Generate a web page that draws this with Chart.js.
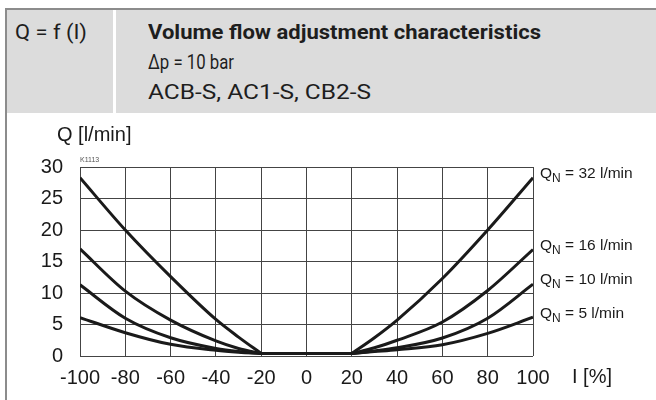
<!DOCTYPE html>
<html>
<head>
<meta charset="utf-8">
<script src="https://cdn.jsdelivr.net/npm/chart.js@4/dist/chart.umd.min.js"></script>
<style>
  html, body { margin: 0; padding: 0; background: #fff; }
  #page { position: relative; width: 656px; height: 400px; overflow: hidden; }
  #frame { position: absolute; left: 5px; top: 8px; width: 651px; height: 392px; border-left: 2px solid #8c8c8c; border-top: 2px solid #8c8c8c; box-sizing: border-box; }
  #head { position: absolute; left: 7px; top: 10px; width: 649px; height: 103px; background: #dcdcdc; }
  #sep { position: absolute; left: 113px; top: 10px; width: 3px; height: 103px; background: #fff; }
  .ht { position: absolute; font-family: Roboto, "Liberation Sans", sans-serif; font-size: 21px; color: #1e1e1e; white-space: nowrap; line-height: 1; transform-origin: 0 0; }
  canvas { position: absolute; left: 0; top: 0; }
</style>
</head>
<body>
<div id="page">
  <div id="head"></div>
  <div id="sep"></div>
  <div id="frame"></div>
  <div class="ht" data-w="72" style="left:15px; top:22px;">Q = f (I)</div>
  <div class="ht" data-w="393" style="left:148px; top:22px; font-weight:bold;">Volume flow adjustment characteristics</div>
  <div class="ht" data-w="86" style="left:148px; top:52px;">Δp = 10 bar</div>
  <div class="ht" data-w="223" style="left:148px; top:82px;">ACB-S, AC1-S, CB2-S</div>
  <canvas id="chart" width="656" height="400"></canvas>
</div>
<script>
// current I [%], left and right branch; flat part in between
const leftCurrents = [-100, -80, -60, -40, -30, -20];
const rightCurrents = [20, 30, 40, 60, 80, 100];
const flatCurrents = [-20, 20];
const flatFlow = [0.4, 0.4];

// flow Q [l/min] per nominal size
const q32Left = [28.3, 20, 12.6, 5.8, 3.0, 0.4];
const q32Right = [0.4, 2.9, 5.7, 12.3, 20, 28.3];
const q16Left = [17.0, 10.3, 5.7, 2.4, 1.2, 0.4];
const q16Right = [0.4, 1.3, 2.5, 5.4, 10.4, 16.9];
const q10Left = [11.3, 6.0, 2.9, 1.2, 0.7, 0.4];
const q10Right = [0.4, 0.8, 1.3, 2.85, 6.0, 11.4];
const q5Left = [6.1, 3.7, 1.85, 0.9, 0.6, 0.4];
const q5Right = [0.4, 0.7, 1.0, 1.8, 3.6, 6.15];

const nominalFlows = [32, 16, 10, 5];
const xTicks = [-100, -80, -60, -40, -20, 0, 20, 40, 60, 80, 100];
const yTicks = [0, 5, 10, 15, 20, 25, 30];

// squeeze header text to the condensed widths of the original
document.querySelectorAll(".ht").forEach(el => {
  const w = el.getBoundingClientRect().width;
  el.style.transform = "scaleX(" + (+el.dataset.w / w) + ")";
});

const font = "'Liberation Sans', Arial, sans-serif";
const lefts = [q32Left, q16Left, q10Left, q5Left];
const rights = [q32Right, q16Right, q10Right, q5Right];

const line = (xs, ys, extra) => Object.assign({
  data: xs.map((x, j) => ({ x, y: ys[j] })),
  borderColor: "#1a1a1a",
  borderWidth: 3,
  pointRadius: 0,
  fill: false,
  cubicInterpolationMode: "monotone",
}, extra);

const datasets = [];
nominalFlows.forEach((q, i) => {
  datasets.push(line(leftCurrents, lefts[i], { label: "QN " + q + " left" }));
  datasets.push(line(rightCurrents, rights[i], { label: "QN = " + q + " l/min", qn: q }));
});
datasets.push(line(flatCurrents, flatFlow, { label: "closed" }));

// labels at curve ends plus axis captions
const extras = {
  id: "extras",
  afterDatasetsDraw(chart) {
    const { ctx, chartArea } = chart;
    ctx.save();
    ctx.fillStyle = "#1a1a1a";
    ctx.textBaseline = "middle";
    chart.data.datasets.forEach((ds, i) => {
      if (!ds.qn) return;
      const pts = chart.getDatasetMeta(i).data;
      const p = pts[pts.length - 1];
      let x = p.x + 7;
      const y = p.y - 4;
      ctx.font = "15.5px " + font;
      ctx.fillText("Q", x, y);
      x += ctx.measureText("Q").width;
      ctx.font = "12px " + font;
      ctx.fillText("N", x, y + 5);
      x += ctx.measureText("N").width;
      ctx.font = "15.5px " + font;
      ctx.fillText(" = " + ds.qn + " l/min", x, y);
    });
    ctx.font = "20px " + font;
    ctx.fillText("Q [l/min]", 57, chartArea.top - 32);
    ctx.fillText("I [%]", 572, chartArea.bottom + 21);
    ctx.fillStyle = "#555";
    ctx.font = "7px " + font;
    ctx.fillText("K1113", chartArea.left, chartArea.top - 7);
    ctx.restore();
  },
};

new Chart(document.getElementById("chart"), {
  type: "line",
  data: { datasets },
  plugins: [extras],
  options: {
    responsive: false,
    animation: false,
    layout: { padding: { left: 0, top: 167, right: 123, bottom: 0 } },
    plugins: { legend: { display: false }, tooltip: { enabled: false } },
    scales: {
      x: {
        type: "linear",
        min: -100,
        max: 100,
        afterFit(scale) { scale.height = 44; },
        afterBuildTicks(scale) { scale.ticks = xTicks.map(v => ({ value: v })); },
        grid: { color: "#444", lineWidth: 1, drawTicks: false },
        border: { display: false },
        ticks: { color: "#1a1a1a", font: { size: 20, family: font }, padding: 10, maxRotation: 0 },
      },
      y: {
        type: "linear",
        min: 0,
        max: 30,
        afterFit(scale) { scale.width = 80; },
        afterBuildTicks(scale) { scale.ticks = yTicks.map(v => ({ value: v })); },
        grid: { color: "#444", lineWidth: 1, drawTicks: false },
        border: { display: false },
        ticks: { color: "#1a1a1a", font: { size: 20, family: font }, padding: 17 },
      },
    },
  },
});
</script>
</body>
</html>
